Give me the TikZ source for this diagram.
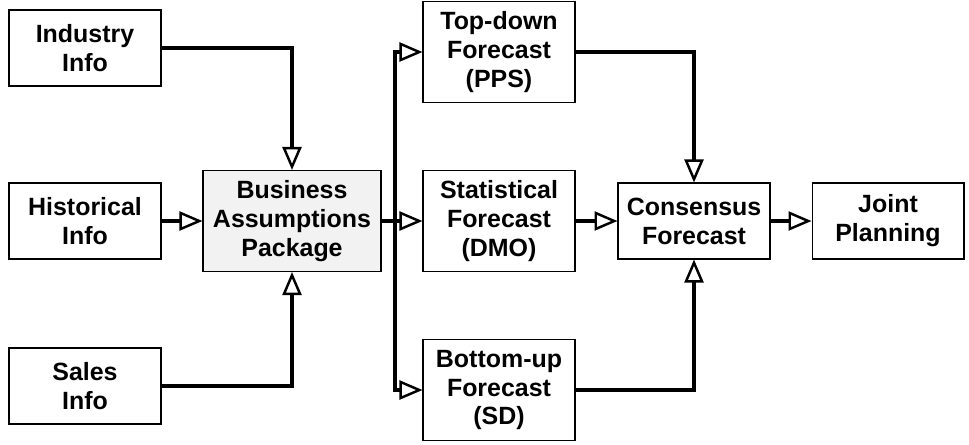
\documentclass[tikz,border=0pt]{standalone}
\usepackage{fontspec}
\setmainfont{Liberation Sans}
\usetikzlibrary{arrows.meta, positioning}

\tikzset{
  stage/.style={draw, line width=0.6pt, align=center, inner sep=0pt,
    minimum width=3.04cm, minimum height=1.52cm,
    font=\fontsize{14.2}{16.5}\selectfont\bfseries},
  tall/.style={stage, minimum height=2.02cm},
  flow/.style={line width=2.7pt,
    -{Triangle[length=0.46cm, width=0.38cm, fill=white, line width=1.4pt]}},
  link/.style={line width=2.7pt}
}

\begin{document}
\begin{tikzpicture}[x=0.02cm, y=-0.02cm]
\useasboundingbox (0,0) rectangle (969,444);

% inputs
\node[stage] (ind) at (85,48) {Industry\\Info};
\node[stage] (hist) at (85,221) {Historical\\Info};
\node[stage] (sal) at (85,386) {Sales\\Info};

% assumptions package
\node[tall, minimum width=3.56cm, fill=gray!10] (bap) at (292,221) {Business\\Assumptions\\Package};

% forecasts
\node[tall] (top) at (499,52) {Top-down\\Forecast\\(PPS)};
\node[tall] (stat) at (499,221) {Statistical\\Forecast\\(DMO)};
\node[tall] (bot) at (499,390) {Bottom-up\\Forecast\\(SD)};

\node[stage] (cons) at (694,221) {Consensus\\Forecast};
\node[stage] (joint) at (888,221) {Joint\\Planning};

% into the package
\draw[flow] (ind.east) -| (bap.north);
\draw[flow] (hist) -- (bap);
\draw[flow] (sal.east) -| (bap.south);

% split to the forecasts
\coordinate (split) at (395,221);
\draw[link] (bap.east) -- (split);
\draw[flow] (split) |- (top.west);
\draw[flow] (split) -- (stat.west);
\draw[flow] (split) |- (bot.west);

% consensus
\draw[flow] (top.east) -| (cons.north);
\draw[flow] (stat) -- (cons);
\draw[flow] (bot.east) -| (cons.south);
\draw[flow] (cons) -- (joint);
\end{tikzpicture}
\end{document}
